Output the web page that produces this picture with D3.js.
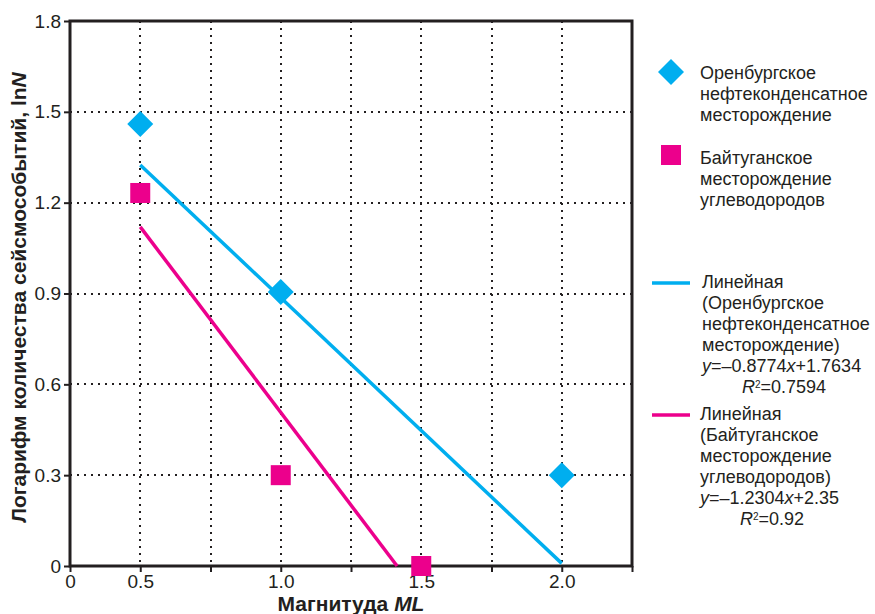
<!DOCTYPE html>
<html>
<head>
<meta charset="utf-8">
<script src="https://cdn.jsdelivr.net/npm/d3@7"></script>
<style>
  body { margin: 0; background: #fff; }
  svg { display: block; }
  svg text { font-family: "Liberation Sans", Arial, sans-serif; }
  .grid line { stroke: #231f20; stroke-width: 2px; stroke-dasharray: 2,5; shape-rendering: crispEdges; }
  .legend-text { font-size: 18px; fill: #231f20; }
</style>
</head>
<body>
<svg width="875" height="614"></svg>
<script>
// x ticks (labels as printed on the original; the first label "0" sits at 0.25)
const xTicks = [0.25, 0.5, 0.75, 1.0, 1.25, 1.5, 1.75, 2.0, 2.25];
const xTickLabels = ['0', '0.5', '', '1.0', '', '1.5', '', '2.0', ''];
const yTicks = [0, 0.3, 0.6, 0.9, 1.2, 1.5, 1.8];
const yTickLabels = ['0', '0.3', '0.6', '0.9', '1.2', '1.5', '1.8'];

// scatter series
const orenX = [0.5, 1.0, 2.0];
const orenY = [1.46, 0.905, 0.30];
const baitX = [0.5, 1.0, 1.5];
const baitY = [1.232, 0.30, 0.0];

// trend line endpoints (as drawn)
const orenTrend = [[0.5, 1.3247], [2.0, 0.0086]];
const baitTrend = [[0.5, 1.12], [1.414, 0.0]];

const blue = '#00aeef';
const pink = '#ec008c';
const ink = '#231f20';

const svg = d3.select('svg');
const margin = { top: 21, right: 243, bottom: 48, left: 70 };
const width = 875 - margin.left - margin.right;
const height = 614 - margin.top - margin.bottom;

const x = d3.scaleLinear().domain([0.25, 2.25]).range([0, width]);
const y = d3.scaleLinear().domain([0, 1.8]).range([height, 0]);

const g = svg.append('g').attr('transform', `translate(${margin.left},${margin.top})`);

// gridlines
const grid = g.append('g').attr('class', 'grid');
grid.selectAll('.vg')
  .data(xTicks.slice(1, -1))
  .enter().append('line')
  .attr('x1', d => x(d)).attr('x2', d => x(d))
  .attr('y1', 0).attr('y2', height);
grid.selectAll('.hg')
  .data(yTicks.slice(1, -1))
  .enter().append('line')
  .attr('x1', 0).attr('x2', width)
  .attr('y1', d => y(d)).attr('y2', d => y(d));

// axes
const xAxis = d3.axisBottom(x).tickValues(xTicks).tickSize(6).tickFormat((d, i) => xTickLabels[i]);
const yAxis = d3.axisLeft(y).tickValues(yTicks).tickSize(6).tickFormat((d, i) => yTickLabels[i]);

const gx = g.append('g').attr('transform', `translate(0,${height})`).call(xAxis);
const gy = g.append('g').call(yAxis);
[gx, gy].forEach(a => {
  a.attr('font-family', null).attr('font-size', null);
  a.select('.domain').remove();
  a.selectAll('.tick line').attr('stroke', ink).attr('stroke-width', 2);
  a.selectAll('.tick text').attr('fill', ink).style('font-size', '19px');
});
gx.selectAll('.tick text').attr('dy', '0.75em').attr('y', 8);
gy.selectAll('.tick text').attr('x', -9);

// frame
g.append('rect')
  .attr('width', width).attr('height', height)
  .attr('fill', 'none').attr('stroke', ink).attr('stroke-width', 3);

// trend lines
const line = d3.line().x(d => x(d[0])).y(d => y(d[1]));
g.append('path').datum(orenTrend).attr('d', line)
  .attr('stroke', blue).attr('stroke-width', 3.5).attr('fill', 'none');
g.append('path').datum(baitTrend).attr('d', line)
  .attr('stroke', pink).attr('stroke-width', 3.5).attr('fill', 'none');

// markers
const diamond = 13;
g.selectAll('.oren')
  .data(orenX.map((v, i) => [v, orenY[i]]))
  .enter().append('path')
  .attr('d', `M0,${-diamond}L${diamond},0L0,${diamond}L${-diamond},0Z`)
  .attr('transform', d => `translate(${x(d[0])},${y(d[1])})`)
  .attr('fill', blue);

const sq = 20;
g.selectAll('.bait')
  .data(baitX.map((v, i) => [v, baitY[i]]))
  .enter().append('rect')
  .attr('x', d => x(d[0]) - sq / 2).attr('y', d => y(d[1]) - sq / 2)
  .attr('width', sq).attr('height', sq)
  .attr('fill', pink);

// axis titles
const yTitle = svg.append('text')
  .attr('transform', `translate(26,${margin.top + height / 2 + 4}) rotate(-90)`)
  .attr('text-anchor', 'middle')
  .style('font-size', '21px').style('font-weight', 'bold').attr('fill', ink);
yTitle.append('tspan').text('Логарифм количества сейсмособытий, ln');
yTitle.append('tspan').style('font-style', 'italic').text('N');

const xTitle = svg.append('text')
  .attr('x', 351).attr('y', 611)
  .attr('text-anchor', 'middle')
  .style('font-size', '21px').style('font-weight', 'bold').attr('fill', ink);
xTitle.append('tspan').text('Магнитуда ');
xTitle.append('tspan').style('font-style', 'italic').text('ML');

// legend
const leg = svg.append('g');
function textBlock(x0, y0, lines) {
  lines.forEach((ln, i) => {
    const t = leg.append('text').attr('class', 'legend-text')
      .attr('x', ln.x != null ? ln.x : x0).attr('y', y0 + i * 21).attr('dy', '0.35em');
    if (typeof ln === 'string') { t.text(ln); return; }
    ln.parts.forEach(p => {
      const s = t.append('tspan').text(p.t);
      if (p.i) s.style('font-style', 'italic');
      if (p.sup) s.attr('baseline-shift', 'super').style('font-size', '10px');
    });
  });
}

leg.append('path')
  .attr('d', `M0,${-diamond}L${diamond},0L0,${diamond}L${-diamond},0Z`)
  .attr('transform', 'translate(671,72)').attr('fill', blue);
textBlock(700, 73, ['Оренбургское', 'нефтеконденсатное', 'месторождение']);

leg.append('rect').attr('x', 661).attr('y', 145).attr('width', sq).attr('height', sq).attr('fill', pink);
textBlock(700, 158, ['Байтуганское', 'месторождение', 'углеводородов']);

leg.append('line').attr('x1', 652).attr('x2', 690).attr('y1', 283).attr('y2', 283)
  .attr('stroke', blue).attr('stroke-width', 3.5);
textBlock(702, 282, [
  'Линейная', '(Оренбургское', 'нефтеконденсатное', 'месторождение)',
  { parts: [{ t: 'y', i: true }, { t: '=–0.8774' }, { t: 'x', i: true }, { t: '+1.7634' }] },
  { x: 742, parts: [{ t: 'R', i: true }, { t: '2', sup: true }, { t: '=0.7594' }] }
]);

leg.append('line').attr('x1', 652).attr('x2', 690).attr('y1', 415).attr('y2', 415)
  .attr('stroke', pink).attr('stroke-width', 3.5);
textBlock(700, 414, [
  'Линейная', '(Байтуганское', 'месторождение', 'углеводородов)',
  { parts: [{ t: 'y', i: true }, { t: '=–1.2304' }, { t: 'x', i: true }, { t: '+2.35' }] },
  { x: 740, parts: [{ t: 'R', i: true }, { t: '2', sup: true }, { t: '=0.92' }] }
]);
</script>
</body>
</html>
